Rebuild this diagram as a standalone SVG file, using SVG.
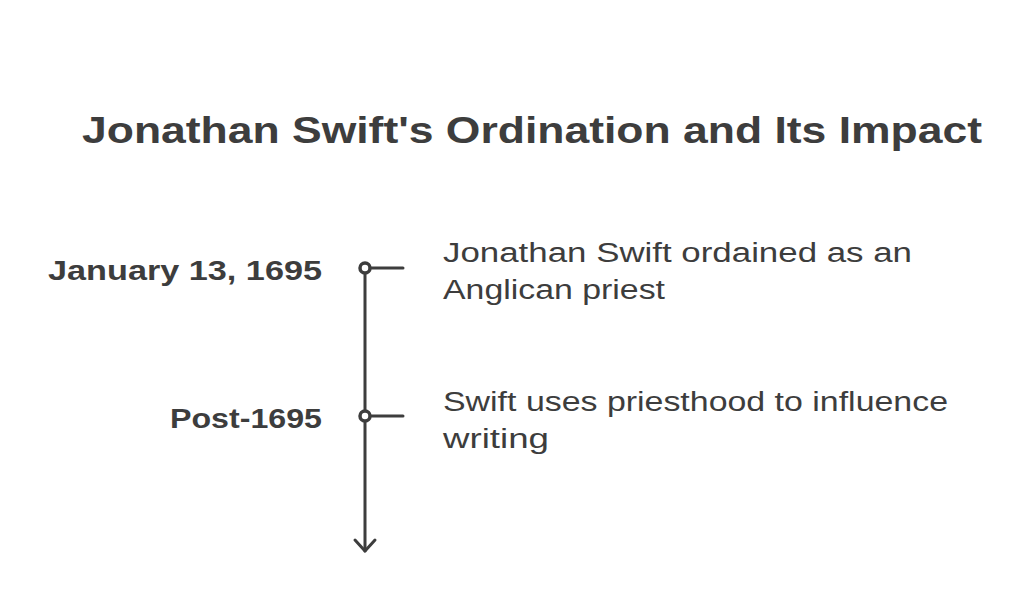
<svg xmlns="http://www.w3.org/2000/svg" width="1024" height="614" viewBox="0 0 1024 614">
<style>
text{font-family:"Liberation Sans",Arial,sans-serif;fill:#3d3d3d}
.title{font-size:36px;font-weight:bold}
.date{font-size:27px;font-weight:bold;text-anchor:end}
.desc{font-size:27px}
.ln{stroke:#3d3d3d;stroke-width:3;fill:none;stroke-linecap:round;stroke-linejoin:round}
.dot{stroke:#3d3d3d;stroke-width:3.5;fill:#ffffff}
</style>
<rect width="1024" height="614" fill="#ffffff"/>
<text class="title" x="82" y="143" textLength="900" lengthAdjust="spacingAndGlyphs">Jonathan Swift's Ordination and Its Impact</text>
<g id="connectors">
<path class="ln" d="M365,268 L365,551"/>
<path class="ln" d="M355,540 L365,551 L375,540"/>
</g>
<g id="event1">
<path class="ln" d="M370,268 L403,268"/>
<circle cx="365" cy="268" r="5" class="dot"/>
<text class="date" x="322" y="280" textLength="274" lengthAdjust="spacingAndGlyphs">January 13, 1695</text>
<text class="desc" x="443" y="262" textLength="469" lengthAdjust="spacingAndGlyphs">Jonathan Swift ordained as an</text>
<text class="desc" x="443" y="299" textLength="222" lengthAdjust="spacingAndGlyphs">Anglican priest</text>
</g>
<g id="event2">
<path class="ln" d="M370,416 L403,416"/>
<circle cx="365" cy="416" r="5" class="dot"/>
<text class="date" x="322" y="428" textLength="152" lengthAdjust="spacingAndGlyphs">Post-1695</text>
<text class="desc" x="443" y="411" textLength="505" lengthAdjust="spacingAndGlyphs">Swift uses priesthood to influence</text>
<text class="desc" x="443" y="448" textLength="106" lengthAdjust="spacingAndGlyphs">writing</text>
</g>
</svg>
